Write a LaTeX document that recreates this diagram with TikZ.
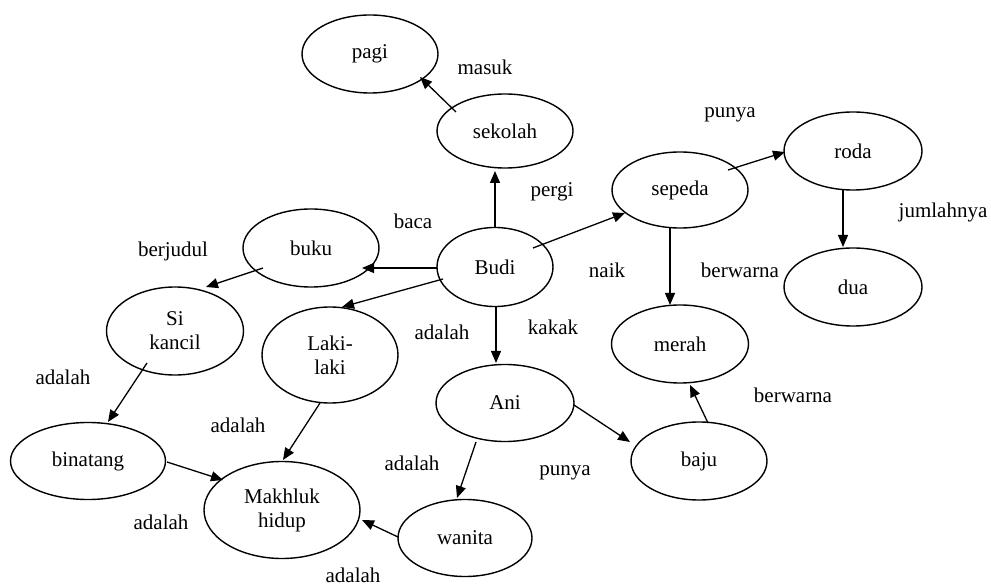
\documentclass[tikz,border=0pt]{standalone}
\usepackage{fontspec}
\setmainfont{Liberation Serif}
\usetikzlibrary{shapes.geometric,arrows.meta,calc}
\begin{document}
\begin{tikzpicture}[x=1pt,y=-1pt,
  concept/.style={draw,ellipse,line width=1.4pt,inner sep=0pt,align=center,
    font=\fontsize{21}{24}\selectfont},
  rel/.style={font=\fontsize{21}{24}\selectfont,inner sep=0pt},
  link/.style={line width=1.3pt,-{Triangle[length=12pt,width=10pt]}}]
\useasboundingbox (0,0) rectangle (991,585);

% concepts
\node[concept,minimum width=136pt,minimum height=78pt] (pagi)    at (370,54)  {pagi};
\node[concept,minimum width=136pt,minimum height=74pt] (sekolah) at (505,131) {sekolah};
\node[concept,minimum width=136pt,minimum height=76pt] (sepeda)  at (680,190) {sepeda};
\node[concept,minimum width=138pt,minimum height=78pt] (roda)    at (853,151) {roda};
\node[concept,minimum width=138pt,minimum height=78pt] (dua)     at (853,287) {dua};
\node[concept,minimum width=136pt,minimum height=78pt] (buku)    at (311,248) {buku};
\node[concept,minimum width=116pt,minimum height=79pt] (budi)    at (495,267) {Budi};
\node[concept,minimum width=137pt,minimum height=88pt] (kancil)  at (175,331) {Si\\kancil};
\node[concept,minimum width=136pt,minimum height=96pt] (laki)    at (330,355) {Laki-\\laki};
\node[concept,minimum width=137pt,minimum height=78pt] (merah)   at (680,344) {merah};
\node[concept,minimum width=138pt,minimum height=77pt] (ani)     at (505,403) {Ani};
\node[concept,minimum width=155pt,minimum height=77pt] (binatang) at (88,461) {binatang};
\node[concept,minimum width=136pt,minimum height=78pt] (baju)    at (699,461) {baju};
\node[concept,minimum width=156pt,minimum height=97pt] (makhluk) at (282,510) {Makhluk\\hidup};
\node[concept,minimum width=134pt,minimum height=77pt] (wanita)  at (465,538) {wanita};

% relations
\draw[link] ($(sekolah)+(-49,-19)$) -- ($(pagi)+(50,23)$);
\draw[link] ($(budi)+(0,-39)$) -- ($(sekolah)+(-10,40)$);
\draw[link] ($(budi)+(-58,1)$) -- ($(buku)+(51,20)$);
\draw[link] ($(buku)+(-48,20)$) -- ($(kancil)+(31,-44)$);
\draw[link] ($(budi)+(-52,12)$) -- ($(laki)+(12,-48)$);
\draw[link] ($(budi)+(1,40)$) -- ($(ani)+(-9,-40)$);
\draw[link] ($(budi)+(38,-19)$) -- ($(sepeda)+(-55,23)$);
\draw[link] ($(sepeda)+(48,-20)$) -- ($(roda)+(-68,1)$);
\draw[link] ($(roda)+(-10,39)$) -- ($(dua)+(-10,-40)$);
\draw[link] ($(sepeda)+(-10,38)$) -- ($(merah)+(-10,-39)$);
\draw[link] ($(kancil)+(-28,32)$) -- ($(binatang)+(20,-39)$);
\draw[link] ($(binatang)+(79,1)$) -- ($(makhluk)+(-59,-30)$);
\draw[link] ($(laki)+(-10,48)$) -- ($(makhluk)+(1,-50)$);
\draw[link] ($(ani)+(-29,39)$) -- ($(wanita)+(-8,-40)$);
\draw[link] ($(wanita)+(-67,-1)$) -- ($(makhluk)+(80,10)$);
\draw[link] ($(ani)+(69,2)$) -- ($(baju)+(-69,-19)$);
\draw[link] ($(baju)+(9,-38)$) -- ($(merah)+(10,41)$);

% labels
\node[rel] (l1)  at (485,67)  {masuk};
\node[rel] (l2)  at (552,192) {pergi};
\node[rel] (l3)  at (730,115) {punya};
\node[rel] (l4)  at (943,212) {jumlahnya};
\node[rel] (l5)  at (413,221) {baca};
\node[rel] (l6)  at (173,251) {berjudul};
\node[rel] (l7)  at (607,270) {naik};
\node[rel] (l8)  at (740,270) {berwarna};
\node[rel] (l9)  at (442,332) {adalah};
\node[rel] (l10) at (553,327) {kakak};
\node[rel] (l11) at (63,377)  {adalah};
\node[rel] (l12) at (793,395) {berwarna};
\node[rel] (l13) at (238,425) {adalah};
\node[rel] (l14) at (412,463) {adalah};
\node[rel] (l15) at (565,473) {punya};
\node[rel] (l16) at (161,522) {adalah};
\node[rel] (l17) at (353,575) {adalah};
\end{tikzpicture}
\end{document}
